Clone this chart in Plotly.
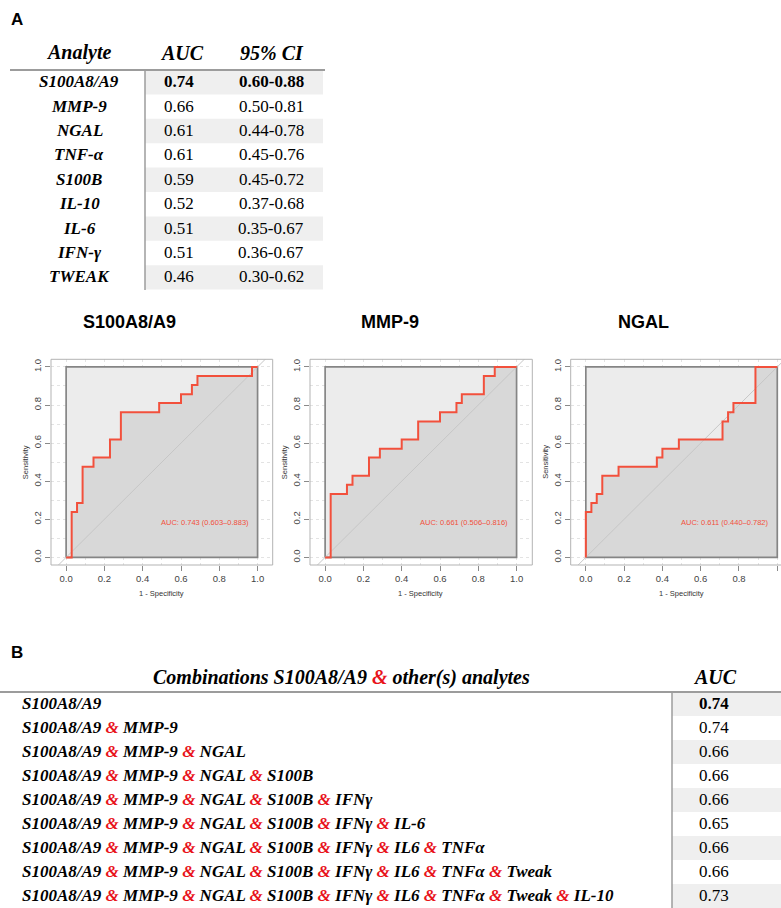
import plotly.graph_objects as go

W, H = 781, 908


def px(x):
    return x / W


def py(y):
    return 1 - y / H


# ---------------- Data: table A ----------------
analytes = ["S100A8/A9", "MMP-9", "NGAL", "TNF-α", "S100B", "IL-10", "IL-6", "IFN-γ", "TWEAK"]
auc_values = ["0.74", "0.66", "0.61", "0.61", "0.59", "0.52", "0.51", "0.51", "0.46"]
ci_values = ["0.60-0.88", "0.50-0.81", "0.44-0.78", "0.45-0.76", "0.45-0.72",
             "0.37-0.68", "0.35-0.67", "0.36-0.67", "0.30-0.62"]

# ---------------- Data: ROC curves ----------------
roc_titles = ["S100A8/A9", "MMP-9", "NGAL"]
roc_auc_labels = ["AUC: 0.743 (0.603–0.883)", "AUC: 0.661 (0.506–0.816)", "AUC: 0.611 (0.440–0.782)"]
s100_fpr = [0.0, 0.029, 0.057, 0.086, 0.143, 0.229, 0.286, 0.486, 0.600, 0.657, 0.686, 0.971, 1.0]
s100_tpr = [0.0, 0.238, 0.286, 0.476, 0.524, 0.619, 0.762, 0.810, 0.857, 0.905, 0.952, 1.0, 1.0]
mmp9_fpr = [0.0, 0.029, 0.114, 0.143, 0.229, 0.286, 0.400, 0.486, 0.600, 0.686, 0.714, 0.829, 0.886, 1.0]
mmp9_tpr = [0.0, 0.333, 0.381, 0.429, 0.524, 0.571, 0.619, 0.714, 0.762, 0.810, 0.857, 0.952, 1.0, 1.0]
ngal_fpr = [0.0, 0.0, 0.029, 0.057, 0.086, 0.171, 0.371, 0.400, 0.486, 0.714, 0.743, 0.771, 0.886, 1.0]
ngal_tpr = [0.0, 0.238, 0.286, 0.333, 0.429, 0.476, 0.524, 0.571, 0.619, 0.714, 0.762, 0.810, 1.0, 1.0]
roc_fpr = [s100_fpr, mmp9_fpr, ngal_fpr]
roc_tpr = [s100_tpr, mmp9_tpr, ngal_tpr]
unit_box_x = [0, 1, 1, 0, 0]
unit_box_y = [0, 0, 1, 1, 0]
ticks = [0.0, 0.2, 0.4, 0.6, 0.8, 1.0]
tick_labels = ["0.0", "0.2", "0.4", "0.6", "0.8", "1.0"]

# ---------------- Data: table B ----------------
combo_rows = [
    ["S100A8/A9"],
    ["S100A8/A9", "MMP-9"],
    ["S100A8/A9", "MMP-9", "NGAL"],
    ["S100A8/A9", "MMP-9", "NGAL", "S100B"],
    ["S100A8/A9", "MMP-9", "NGAL", "S100B", "IFNγ"],
    ["S100A8/A9", "MMP-9", "NGAL", "S100B", "IFNγ", "IL-6"],
    ["S100A8/A9", "MMP-9", "NGAL", "S100B", "IFNγ", "IL6", "TNFα"],
    ["S100A8/A9", "MMP-9", "NGAL", "S100B", "IFNγ", "IL6", "TNFα", "Tweak"],
    ["S100A8/A9", "MMP-9", "NGAL", "S100B", "IFNγ", "IL6", "TNFα", "Tweak", "IL-10"],
]
combo_auc = ["0.74", "0.74", "0.66", "0.66", "0.66", "0.65", "0.66", "0.66", "0.73"]

# ---------------- Styles ----------------
SERIF = "Liberation Serif"
SANS = "Liberation Sans"
RED = "#f2503c"
AMP_RED = "#e8131b"
LINE_GREY = "#9c9c9c"
SHADE = "#efefef"

fig = go.Figure()
shapes = []
annotations = []


def text(x, y, s, size, family=SERIF, color="black", xanchor="center", **kw):
    annotations.append(dict(x=px(x), y=py(y), xref="paper", yref="paper", text=s, showarrow=False,
                            xanchor=xanchor, yanchor="middle",
                            font=dict(family=family, size=size, color=color), **kw))


# ---------------- Panel labels ----------------
text(16.5, 20, "<b>A</b>", 17, family=SANS)
text(17, 652, "<b>B</b>", 17, family=SANS)

# ---------------- Table A ----------------
rowA_top, rowA_h = 70, 24.4
for i in range(len(analytes)):
    if i % 2 == 0:
        shapes.append(dict(type="rect", xref="paper", yref="paper", layer="below",
                           x0=px(145), x1=px(323), y0=py(rowA_top + i * rowA_h),
                           y1=py(rowA_top + (i + 1) * rowA_h), fillcolor=SHADE, line=dict(width=0)))
shapes.append(dict(type="line", xref="paper", yref="paper", x0=px(10), x1=px(325), y0=py(70), y1=py(70),
                   line=dict(color=LINE_GREY, width=2)))
shapes.append(dict(type="line", xref="paper", yref="paper", x0=px(145), x1=px(145), y0=py(70), y1=py(290),
                   line=dict(color=LINE_GREY, width=1.5)))
text(78, 53, "<b><i>Analyte</i></b>", 20)
text(182, 53, "<b><i>AUC</i></b>", 20)
text(272, 53, "<b><i>95% CI</i></b>", 20)
for i, (a, v, c) in enumerate(zip(analytes, auc_values, ci_values)):
    yc = rowA_top + (i + 0.5) * rowA_h - 0.5
    text(79, yc, f"<b><i>{a}</i></b>", 17)
    if i == 0:
        text(179, yc, f"<b>{v}</b>", 17)
        text(271, yc, f"<b>{c}</b>", 17)
    else:
        text(179, yc, v, 17)
        text(271, yc, c, 17)

# ---------------- ROC panels ----------------
x_domains = [(51, 272.7), (310, 532.3), (570.7, 781)]
y_domain = (359.3, 565)
title_x = [129, 390, 643]
px_per_unit = (272.7 - 51) / 1.158
xmin = -0.079

for k in range(3):
    xa = "x" if k == 0 else f"x{k + 1}"
    ya = "y" if k == 0 else f"y{k + 1}"
    fig.add_trace(go.Scatter(x=unit_box_x, y=unit_box_y, mode="lines", fill="toself",
                             fillcolor="#ececec", line=dict(width=0), xaxis=xa, yaxis=ya,
                             hoverinfo="skip", showlegend=False))
    fig.add_trace(go.Scatter(x=roc_fpr[k], y=roc_tpr[k], mode="lines", line_shape="hv",
                             fill="tozeroy", fillcolor="#d8d8d8", line=dict(width=0),
                             xaxis=xa, yaxis=ya, hoverinfo="skip", showlegend=False))
    fig.add_trace(go.Scatter(x=unit_box_x, y=unit_box_y, mode="lines",
                             line=dict(color="#858585", width=1.7), xaxis=xa, yaxis=ya,
                             hoverinfo="skip", showlegend=False))
    fig.add_trace(go.Scatter(x=[-0.2, 1.2], y=[-0.2, 1.2], mode="lines",
                             line=dict(color="#c6c6c6", width=1), xaxis=xa, yaxis=ya,
                             hoverinfo="skip", showlegend=False))
    fig.add_trace(go.Scatter(x=roc_fpr[k], y=roc_tpr[k], mode="lines", line_shape="hv",
                             line=dict(color=RED, width=2), xaxis=xa, yaxis=ya,
                             hoverinfo="skip", showlegend=False))

    x0, x1 = x_domains[k]
    xmax = xmin + (x1 - x0) / px_per_unit
    axis_common = dict(showline=False, zeroline=False, ticks="outside", ticklen=5, tickwidth=1,
                       tickcolor="#8a8a8a", tickvals=ticks, ticktext=tick_labels,
                       tickfont=dict(family=SANS, size=9.5, color="#444444"),
                       showgrid=True, gridcolor="#e3e3e3", griddash="dot", gridwidth=1,
                       minor=dict(dtick=0.1, tick0=0, showgrid=True, gridcolor="#e3e3e3",
                                  griddash="dot", gridwidth=1),
                       fixedrange=True)
    fig.update_layout(**{
        ("xaxis" if k == 0 else f"xaxis{k + 1}"): dict(
            domain=[px(x0), min(px(x1), 1.0)], range=[xmin, xmax], anchor=ya, **axis_common),
        ("yaxis" if k == 0 else f"yaxis{k + 1}"): dict(
            domain=[py(y_domain[1]), py(y_domain[0])], range=[-0.04, 1.04], anchor=xa,
            tickangle=-90, **axis_common),
    })
    fx1 = x1 if k < 2 else 795
    shapes.append(dict(type="rect", xref="paper", yref="paper", layer="above",
                       x0=px(x0), x1=px(fx1), y0=py(y_domain[1]), y1=py(y_domain[0]),
                       line=dict(color="#b3b3b3", width=1)))
    text(title_x[k], 322, f"<b>{roc_titles[k]}</b>", 18, family=SANS)
    annotations.append(dict(x=0.5, y=py(593), xref=xa, yref="paper", text="1 - Specificity",
                            showarrow=False, xanchor="center", yanchor="middle",
                            font=dict(family=SANS, size=7.5, color="#333333")))
    annotations.append(dict(x=px(x0 - 26), y=0.5, xref="paper", yref=ya, text="Sensitivity",
                            showarrow=False, xanchor="center", yanchor="middle", textangle=-90,
                            font=dict(family=SANS, size=7.5, color="#333333")))
    annotations.append(dict(x=0.725, y=0.185, xref=xa, yref=ya, text=roc_auc_labels[k],
                            showarrow=False, xanchor="center", yanchor="middle",
                            font=dict(family=SANS, size=7.5, color=RED)))

# ---------------- Table B ----------------
rowB_top, rowB_h = 692, 24
for i in range(len(combo_rows)):
    if i % 2 == 0:
        shapes.append(dict(type="rect", xref="paper", yref="paper", layer="below",
                           x0=px(672), x1=px(781), y0=py(rowB_top + i * rowB_h),
                           y1=py(rowB_top + (i + 1) * rowB_h), fillcolor=SHADE, line=dict(width=0)))
shapes.append(dict(type="line", xref="paper", yref="paper", x0=0, x1=1, y0=py(692), y1=py(692),
                   line=dict(color=LINE_GREY, width=2)))
shapes.append(dict(type="line", xref="paper", yref="paper", x0=px(672), x1=px(672), y0=py(692), y1=0,
                   line=dict(color=LINE_GREY, width=1.5)))

amp = f' <span style="color:{AMP_RED}">&amp;</span> '
text(341, 677, f"<b><i>Combinations S100A8/A9{amp}other(s) analytes</i></b>", 20)
text(715, 677, "<b><i>AUC</i></b>", 20)
for i, (items, v) in enumerate(zip(combo_rows, combo_auc)):
    yc = rowB_top + (i + 0.5) * rowB_h - 1
    text(20, yc, "<b><i>" + amp.join(items) + "</i></b>", 17, xanchor="left")
    text(714, yc, f"<b>{v}</b>" if i == 0 else v, 17)

fig.update_layout(width=W, height=H, autosize=False, margin=dict(l=0, r=0, t=0, b=0),
                  paper_bgcolor="white", plot_bgcolor="white",
                  shapes=shapes, annotations=annotations, showlegend=False)

fig.write_html("out.html", config={"displayModeBar": False, "staticPlot": True},
               post_script="document.body.style.margin='0px';document.body.style.padding='0px';")
